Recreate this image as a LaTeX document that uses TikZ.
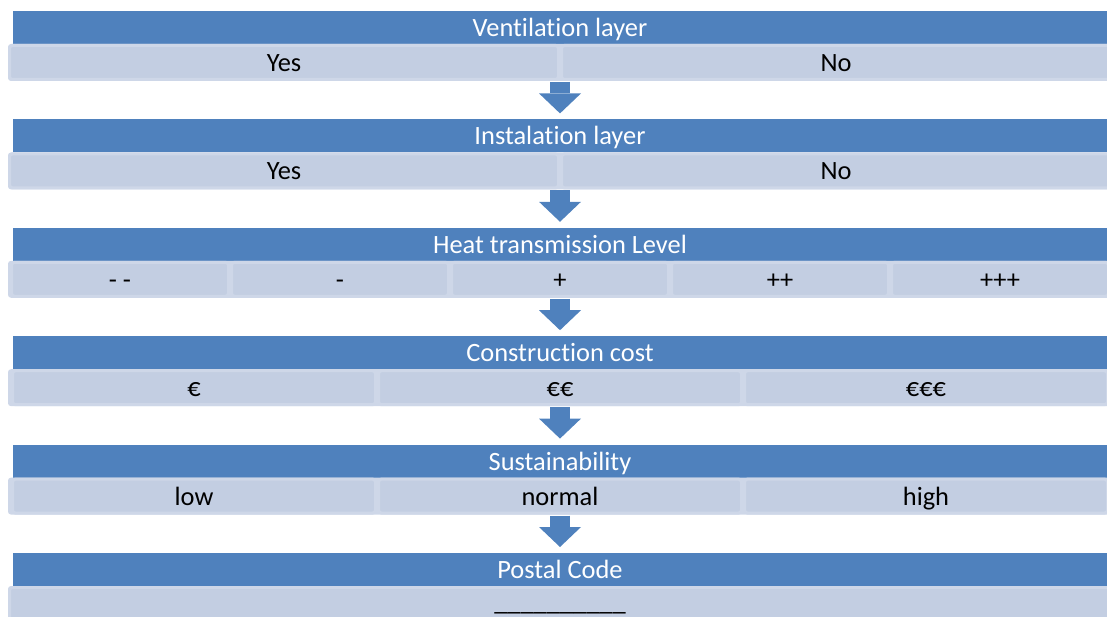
\documentclass[tikz,border=0pt]{standalone}
\usepackage{fontspec}
\setmainfont[Ligatures=NoCommon]{Carlito}
\usetikzlibrary{arrows.meta}

\definecolor{headblue}{HTML}{4F81BD}
\definecolor{cellfill}{HTML}{C3CEE2}
\definecolor{cellline}{HTML}{CED7E8}

\begin{document}
\begin{tikzpicture}[
    x=1pt, y=-1pt,
    header/.style={
        fill=headblue,
        text=white,
        minimum width=1094pt,
        minimum height=33pt,
        inner sep=0pt,
        outer sep=0pt,
        text height=21pt,
        text depth=3pt,
        font=\fontsize{26.4}{30}\selectfont
    },
    band/.style={
        fill=cellline,
        rounded corners=3pt,
        minimum width=1104pt,
        minimum height=37pt,
        inner sep=0pt,
        outer sep=0pt
    },
    cell/.style={
        fill=cellfill,
        draw=cellline,
        line width=3pt,
        rounded corners=3pt,
        minimum height=34pt,
        inner sep=0pt,
        outer sep=0pt,
        text height=21pt,
        text depth=3pt,
        font=\fontsize{26.4}{30}\selectfont
    },
    flow/.style={
        -{Triangle[length=20pt, width=42pt, line width=0pt]},
        headblue,
        line width=20pt,
        shorten >=6pt,
        shorten <=1pt
    }
]

\useasboundingbox (0,0) rectangle (1107,617);

% Horizontal position of the middle line
\def\MidX{560}

% ==================================================
% Ventilation layer
% ==================================================

\node[header] (vent) at (\MidX,27.5) {Ventilation layer};
\node[band] (ventrow) at (\MidX,62.5) {};

\node[cell, minimum width=549pt] (ventY) at (284,62.5) {Yes};
\node[cell, minimum width=549pt] (ventN) at (836,62.5) {No};

% ==================================================
% Instalation layer
% ==================================================

\node[header] (inst) at (\MidX,135.9) {Instalation layer};
\node[band] (instrow) at (\MidX,170.9) {};

\node[cell, minimum width=549pt] (instY) at (284,170.9) {Yes};
\node[cell, minimum width=549pt] (instN) at (836,170.9) {No};

% ==================================================
% Heat transmission
% ==================================================

\node[header] (heat) at (\MidX,244.3) {Heat transmission Level};
\node[band] (heatrow) at (\MidX,279.3) {};

\node[cell, minimum width=217pt] (heat1) at (120,279.3) {- -};
\node[cell, minimum width=217pt] (heat2) at (340,279.3) {-};
\node[cell, minimum width=217pt] (heat3) at (560,279.3) {+};
\node[cell, minimum width=217pt] (heat4) at (780,279.3) {++};
\node[cell, minimum width=217pt] (heat5) at (1000,279.3) {+++};

% ==================================================
% Construction cost
% ==================================================

\node[header] (cost) at (\MidX,352.7) {Construction cost};
\node[band] (costrow) at (\MidX,387.7) {};

\node[cell, minimum width=363pt] (cost1) at (194,387.7) {€};
\node[cell, minimum width=363pt] (cost2) at (560,387.7) {€€};
\node[cell, minimum width=363pt] (cost3) at (926,387.7) {€€€};

% ==================================================
% Sustainability
% ==================================================

\node[header] (sust) at (\MidX,461.1) {Sustainability};
\node[band] (sustrow) at (\MidX,496.1) {};

\node[cell, minimum width=363pt] (sust1) at (194,496.1) {low};
\node[cell, minimum width=363pt] (sust2) at (560,496.1) {normal};
\node[cell, minimum width=363pt] (sust3) at (926,496.1) {high};

% ==================================================
% Postal code
% ==================================================

\node[header] (post) at (\MidX,569.5) {Postal Code};
\node[band] (postrow) at (\MidX,604.5) {};

% blank to fill in, a little higher so it stays on the page
\node[cell, minimum width=1101pt, text height=18pt, text depth=6pt]
    (postIn) at (\MidX,604.5) {\_\_\_\_\_\_\_\_\_\_};

% ==================================================
% Arrows between the steps
% ==================================================

\draw[flow] (ventrow) -- (inst);
\draw[flow] (instrow) -- (heat);
\draw[flow] (heatrow) -- (cost);
\draw[flow] (costrow) -- (sust);
\draw[flow] (sustrow) -- (post);

\end{tikzpicture}
\end{document}
